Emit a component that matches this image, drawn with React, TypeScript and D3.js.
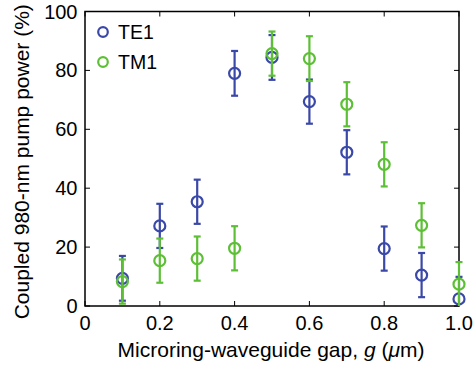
import React from "react";
import * as d3 from "d3";

const gaps = [0.1, 0.2, 0.3, 0.4, 0.5, 0.6, 0.7, 0.8, 0.9, 1.0];
const te1 = [9.4, 27.2, 35.4, 79, 84.4, 69.4, 52.2, 19.5, 10.5, 2.4];
const tm1 = [8.3, 15.4, 16.1, 19.6, 85.7, 84, 68.5, 48.1, 27.4, 7.4];
const te1Err = [7.6, 7.5, 7.5, 7.6, 7.6, 7.5, 7.5, 7.5, 7.5, 7.5];
const tm1Err = [7.5, 7.5, 7.5, 7.5, 7.5, 7.6, 7.5, 7.5, 7.5, 7.5];
const xTicks = [0, 0.2, 0.4, 0.6, 0.8, 1.0];
const yTicks = [0, 20, 40, 60, 80, 100];
const seriesNames = ["TE1", "TM1"];

const W = 475, H = 366;
const M = { left: 85, right: 459, top: 11.5, bottom: 306 };
const BLUE = "#3a48a8";
const GREEN = "#5dbf35";
const FONT = "'Liberation Sans', Arial, Helvetica, sans-serif";

export default function App() {
  const x = d3.scaleLinear().domain([0, 1]).range([M.left, M.right]);
  const y = d3.scaleLinear().domain([0, 100]).range([M.bottom, M.top]);
  const series = [
    { name: seriesNames[0], vals: te1, err: te1Err, color: BLUE },
    { name: seriesNames[1], vals: tm1, err: tm1Err, color: GREEN },
  ];
  const cap = 3.5;
  const r = 5.5;
  return (
    <svg width={W} height={H} style={{ position: "absolute", left: 0, top: 0, background: "#fff" }}>
      <rect x={0} y={0} width={W} height={H} fill="#fff" />
      {xTicks.map((t, i) => (
        <g key={"xt" + i}>
          <line x1={x(t)} x2={x(t)} y1={M.bottom} y2={M.bottom - 5} stroke="#000" strokeWidth={1} />
          <line x1={x(t)} x2={x(t)} y1={M.top} y2={M.top + 5} stroke="#000" strokeWidth={1} />
          <text x={x(t)} y={330} textAnchor="middle" fontFamily={FONT} fontSize={20} fill="#000">
            {t === 0 ? "0" : t.toFixed(1)}
          </text>
        </g>
      ))}
      {yTicks.map((t, i) => (
        <g key={"yt" + i}>
          <line x1={M.left} x2={M.left + 5} y1={y(t)} y2={y(t)} stroke="#000" strokeWidth={1} />
          <line x1={M.right} x2={M.right - 5} y1={y(t)} y2={y(t)} stroke="#000" strokeWidth={1} />
          <text x={M.left - 7.5} y={y(t) + 7} textAnchor="end" fontFamily={FONT} fontSize={20} fill="#000">
            {t}
          </text>
        </g>
      ))}
      <rect x={M.left} y={M.top} width={M.right - M.left} height={M.bottom - M.top} fill="none" stroke="#000" strokeWidth={1.5} />
      {series.map((s) => (
        <g key={s.name}>
          {gaps.map((g, i) => {
            const cx = x(g);
            const lo = y(Math.max(0, s.vals[i] - s.err[i]));
            const hi = y(s.vals[i] + s.err[i]);
            const cy = y(s.vals[i]);
            const loClipped = s.vals[i] - s.err[i] < 0;
            return (
              <g key={i} stroke={s.color} strokeWidth={2.2} fill="none">
                <line x1={cx} x2={cx} y1={lo} y2={hi} />
                <line x1={cx - cap} x2={cx + cap} y1={hi} y2={hi} />
                {!loClipped && <line x1={cx - cap} x2={cx + cap} y1={lo} y2={lo} />}
                <circle cx={cx} cy={cy} r={r} />
              </g>
            );
          })}
        </g>
      ))}
      {series.map((s, i) => (
        <g key={"lg" + i}>
          <circle cx={103} cy={32 + i * 30} r={4.8} fill="none" stroke={s.color} strokeWidth={2.2} />
          <text x={118} y={39 + i * 30} fontFamily={FONT} fontSize={19.5} fill="#000">
            {s.name}
          </text>
        </g>
      ))}
      <text x={(M.left + M.right) / 2 - 1} y={357} textAnchor="middle" fontFamily={FONT} fontSize={21} fill="#000">
        Microring-waveguide gap, <tspan fontStyle="italic">g</tspan> (<tspan fontStyle="italic">μ</tspan>m)
      </text>
      <text
        transform={`translate(29, ${(M.top + M.bottom) / 2 + 3}) rotate(-90)`}
        textAnchor="middle"
        fontFamily={FONT}
        fontSize={21}
        fill="#000"
      >
        Coupled 980-nm pump power (%)
      </text>
    </svg>
  );
}
